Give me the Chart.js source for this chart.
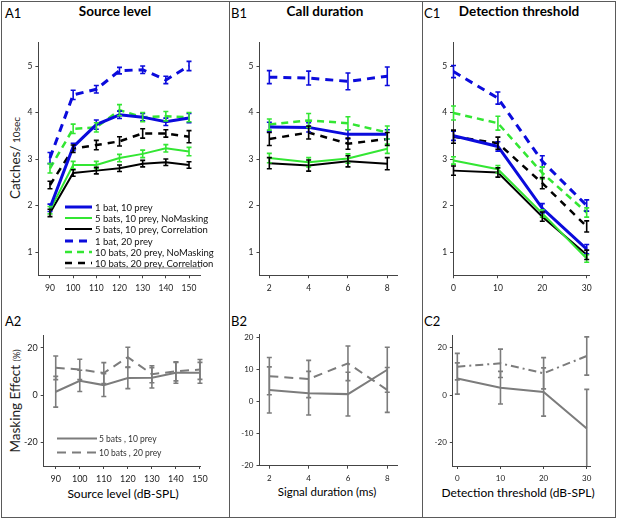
<!DOCTYPE html>
<html><head><meta charset="utf-8">
<script src="https://cdn.jsdelivr.net/npm/chart.js@4.4.1/dist/chart.umd.min.js"></script>
<style>
body{margin:0;background:#fff;width:617px;height:519px;overflow:hidden;position:relative;font-family:Lato,sans-serif;}
canvas{position:absolute;left:0;top:0;}
.t{position:absolute;white-space:nowrap;color:#000;line-height:1;}
.c{text-align:center;width:240px;}
.f{position:absolute;background:#5a5a5a;}
.r{position:absolute;white-space:nowrap;transform:translate(-50%,-50%) rotate(-90deg);line-height:1;color:#222;}
</style></head><body>
<div class="f" style="left:1px;top:1px;width:615px;height:1px"></div>
<div class="f" style="left:1px;top:517px;width:615px;height:1px"></div>
<div class="f" style="left:1px;top:1px;width:1px;height:517px"></div>
<div class="f" style="left:615px;top:1px;width:1px;height:517px"></div>
<div class="f" style="left:229px;top:1px;width:1px;height:517px"></div>
<div class="f" style="left:422px;top:1px;width:1px;height:517px"></div>

<div class="t" style="left:5px;top:7px;font-size:13px">A1</div>
<div class="t c" style="left:-5px;top:5px;font-size:13.5px;font-weight:bold">Source level</div>
<div class="t" style="left:231px;top:7px;font-size:13px">B1</div>
<div class="t c" style="left:205px;top:5px;font-size:13.5px;font-weight:bold">Call duration</div>
<div class="t" style="left:424px;top:7px;font-size:13px">C1</div>
<div class="t c" style="left:399px;top:5px;font-size:13.5px;font-weight:bold">Detection threshold</div>
<div class="t" style="left:5px;top:315px;font-size:13px">A2</div>
<div class="t" style="left:231px;top:315px;font-size:13px">B2</div>
<div class="t" style="left:424px;top:315px;font-size:13px">C2</div>
<div class="t c" style="left:3px;top:488px;font-size:12px">Source level (dB-SPL)</div>
<div class="t c" style="left:207px;top:486px;font-size:11.5px">Signal duration (ms)</div>
<div class="t c" style="left:398px;top:487px;font-size:12px">Detection threshold (dB-SPL)</div>
<div class="r" style="left:16px;top:158px;font-size:13.5px">Catches/<span style="font-size:10px"> 10sec</span></div>
<div class="r" style="left:16px;top:401px;font-size:13.5px">Masking Effect <span style="font-size:9px">(%)</span></div>

<canvas id="a1" width="617" height="519"></canvas>
<canvas id="b1" width="617" height="519"></canvas>
<canvas id="c1" width="617" height="519"></canvas>
<canvas id="a2" width="617" height="519"></canvas>
<canvas id="b2" width="617" height="519"></canvas>
<canvas id="c2" width="617" height="519"></canvas>
<script>
// ---------- data ----------
const sourceLevel = [90,100,110,120,130,140,150];
const callDuration = [2,4,6,8];
const detThreshold = [0,10,20,30];
const catchTicks = [1,2,3,4,5];

// A1 catches vs source level
const a1Bat1Prey10 = [1.95,3.26,3.74,3.95,3.9,3.8,3.88];
const a1Bat1Prey10Err = [0.08,0.08,0.1,0.08,0.08,0.08,0.1];
const a1Bats5NoMask = [1.9,2.87,2.87,3.02,3.11,3.23,3.16];
const a1Bats5NoMaskErr = [0.08,0.08,0.08,0.08,0.08,0.08,0.09];
const a1Bats5Corr = [1.84,2.7,2.75,2.8,2.9,2.93,2.87];
const a1Bats5CorrErr = [0.08,0.07,0.07,0.07,0.07,0.07,0.07];
const a1Bat1Prey20 = [3.02,4.38,4.5,4.9,4.92,4.7,5.0];
const a1Bat1Prey20Err = [0.12,0.1,0.08,0.07,0.08,0.08,0.1];
const a1Bats10NoMask = [2.8,3.65,3.68,4.05,3.9,3.92,3.9];
const a1Bats10NoMaskErr = [0.1,0.1,0.1,0.12,0.1,0.1,0.1];
const a1Bats10Corr = [2.44,3.22,3.3,3.38,3.55,3.55,3.48];
const a1Bats10CorrErr = [0.08,0.08,0.1,0.1,0.1,0.08,0.13];

// B1 catches vs call duration
const b1Bat1Prey10 = [3.69,3.68,3.53,3.53];
const b1Bat1Prey10Err = [0.1,0.1,0.1,0.1];
const b1Bats5NoMask = [3.02,2.93,3.01,3.22];
const b1Bats5NoMaskErr = [0.1,0.1,0.1,0.1];
const b1Bats5Corr = [2.91,2.86,2.95,2.9];
const b1Bats5CorrErr = [0.12,0.12,0.12,0.13];
const b1Bat1Prey20 = [4.76,4.74,4.67,4.78];
const b1Bat1Prey20Err = [0.14,0.15,0.18,0.2];
const b1Bats10NoMask = [3.74,3.83,3.77,3.57];
const b1Bats10NoMaskErr = [0.12,0.15,0.14,0.14];
const b1Bats10Corr = [3.43,3.57,3.33,3.43];
const b1Bats10CorrErr = [0.14,0.14,0.12,0.14];

// C1 catches vs detection threshold
const c1Bat1Prey10 = [3.5,3.27,1.94,1.06];
const c1Bat1Prey10Err = [0.1,0.1,0.1,0.1];
const c1Bats5NoMask = [2.97,2.78,1.83,0.86];
const c1Bats5NoMaskErr = [0.08,0.08,0.08,0.08];
const c1Bats5Corr = [2.75,2.71,1.76,0.94];
const c1Bats5CorrErr = [0.1,0.1,0.1,0.1];
const c1Bat1Prey20 = [4.88,4.31,2.95,2.0];
const c1Bat1Prey20Err = [0.13,0.13,0.12,0.12];
const c1Bats10NoMask = [3.99,3.77,2.7,1.85];
const c1Bats10NoMaskErr = [0.15,0.15,0.13,0.1];
const c1Bats10Corr = [3.48,3.34,2.48,1.55];
const c1Bats10CorrErr = [0.14,0.13,0.12,0.12];

// masking effect (%)
const a2Bats5 = [1.4,6,4.2,7.2,7.3,9.4,9.4];
const a2Bats5Err = [6.5,4.5,4.8,4.5,4.3,4.4,4.4];
const a2Bats10 = [11.5,10.8,9.3,16,8.8,10,10.8];
const a2Bats10Err = [5,4.3,4.4,4.2,3.6,4,4.2];
const b2Bats5 = [3.6,2.6,2.3,9.9];
const b2Bats5Err = [7.2,6.8,6.8,7];
const b2Bats10 = [7.9,7,11.9,3.6];
const b2Bats10Err = [5.8,5.8,5.4,7];
const c2Bats5 = [7,3.1,1.3,-14.1];
const c2Bats5Err = [6.6,6.9,10.2,16.5];
const c2Bats10 = [12,13.4,9.2,16.5];
const c2Bats10Err = [5.6,6,6.6,8.1];

const maskTicks20 = [-20,0,20];
const maskTicks10 = [-20,-10,0,10,20];

const labels6 = ['1 bat, 10 prey','5 bats, 10 prey, NoMasking','5 bats, 10 prey, Correlation',
  '1 bat, 20 prey','10 bats, 20 prey, NoMasking','10 bats, 20 prey, Correlation'];
const labels2 = ['5 bats , 10 prey','10 bats , 20 prey'];

// ---------- styling ----------
const W=617,H=519,YW=30,XH=25;
const BLUE='#0b0bdc', GREEN='#33e633', BLACK='#000000', GRAY='#7c7c7c';
const FONT='Lato, sans-serif';

const errorBars={
  id:'errorBars',
  afterDatasetsDraw(chart){
    const ctx=chart.ctx, ys=chart.scales.y, a=chart.chartArea;
    ctx.save();
    ctx.beginPath(); ctx.rect(a.left-6,a.top-1,a.right-a.left+12,a.bottom-a.top+1); ctx.clip();
    chart.data.datasets.forEach((ds,i)=>{
      if(!ds.errors) return;
      const meta=chart.getDatasetMeta(i);
      ctx.strokeStyle=ds.borderColor; ctx.lineWidth=ds.errWidth||1.6; ctx.setLineDash([]);
      meta.data.forEach((pt,j)=>{
        const v=ds.data[j].y, e=ds.errors[j], c=ds.cap||2.5;
        const y1=ys.getPixelForValue(v+e), y2=ys.getPixelForValue(v-e), x=pt.x;
        ctx.beginPath();
        ctx.moveTo(x,y1); ctx.lineTo(x,y2);
        ctx.moveTo(x-c,y1); ctx.lineTo(x+c,y1);
        ctx.moveTo(x-c,y2); ctx.lineTo(x+c,y2);
        ctx.stroke();
      });
    });
    ctx.restore();
  }
};
const inLegend={
  id:'inLegend',
  afterDraw(chart,args,o){
    if(!o||!o.ys) return;
    const ctx=chart.ctx;
    ctx.save();
    chart.data.datasets.forEach((ds,i)=>{
      const y=o.ys[i];
      ctx.strokeStyle=ds.borderColor; ctx.lineWidth=ds.borderWidth; ctx.setLineDash(ds.borderDash||[]);
      ctx.beginPath(); ctx.moveTo(o.x0,y); ctx.lineTo(o.x1,y); ctx.stroke();
      ctx.setLineDash([]);
      ctx.fillStyle=o.color||'#111'; ctx.font=o.size+'px '+FONT; ctx.textBaseline='middle';
      ctx.fillText(ds.label,o.tx,y+0.5);
    });
    if(o.under){
      ctx.strokeStyle='#8a8a8a'; ctx.lineWidth=1;
      ctx.beginPath(); ctx.moveTo(o.under[0],o.under[2]); ctx.lineTo(o.under[1],o.under[2]); ctx.stroke();
    }
    ctx.restore();
  }
};

function ds(label,xs,ys,err,color,width,dash){
  return {label,data:xs.map((x,i)=>({x,y:ys[i]})),errors:err,borderColor:color,backgroundColor:color,
    borderWidth:width,borderDash:dash||[],pointRadius:0,tension:0,fill:false};
}
function axis(min,max,ticks,size,isX){
  return {type:'linear',min,max,
    afterBuildTicks:s=>{s.ticks=ticks.map(v=>({value:v}));},
    afterFit:s=>{ if(isX){s.height=XH;} else {s.width=YW;} s.paddingLeft=0;s.paddingRight=0;s.paddingTop=0;s.paddingBottom=0;},
    grid:{display:true,drawOnChartArea:false,drawTicks:true,tickLength:3,color:'#444'},
    border:{display:true,color:'#444',width:1},
    ticks:{font:{family:FONT,size},color:'#222',padding:isX?5:3,maxRotation:0,autoSkip:false}
  };
}
function panel(id,area,xr,yr,xt,yt,datasets,tsize,legend){
  new Chart(document.getElementById(id),{
    type:'line',
    data:{datasets},
    options:{responsive:false,animation:false,
      layout:{padding:{left:area[0]-YW,right:W-area[1],top:area[2],bottom:H-area[3]-XH}},
      scales:{x:axis(xr[0],xr[1],xt,tsize,true),y:axis(yr[0],yr[1],yt,tsize,false)},
      plugins:{legend:{display:false},tooltip:{enabled:false},inLegend:legend||{}}
    },
    plugins:[errorBars,inLegend]
  });
}
function six(xs,s){
  return [
    ds(labels6[0],xs,s[0],s[1],BLUE,3),
    ds(labels6[1],xs,s[2],s[3],GREEN,2),
    ds(labels6[2],xs,s[4],s[5],BLACK,2),
    ds(labels6[3],xs,s[6],s[7],BLUE,3,[8,6]),
    ds(labels6[4],xs,s[8],s[9],GREEN,2.5,[7,5]),
    ds(labels6[5],xs,s[10],s[11],BLACK,2.5,[7,6])
  ];
}

panel('a1',[38.4,200.6,42.75,275.25],[85,155],[0.5,5.5],sourceLevel,catchTicks,
  six(sourceLevel,[a1Bat1Prey10,a1Bat1Prey10Err,a1Bats5NoMask,a1Bats5NoMaskErr,a1Bats5Corr,a1Bats5CorrErr,
    a1Bat1Prey20,a1Bat1Prey20Err,a1Bats10NoMask,a1Bats10NoMaskErr,a1Bats10Corr,a1Bats10CorrErr]),8.5,
  {x0:65,x1:92,tx:95,ys:[207,218,229,241,252,263],size:9.5,under:[65,201,268]});
panel('b1',[259.5,397.1,42.75,275.25],[1.5,8.5],[0.5,5.5],callDuration,catchTicks,
  six(callDuration,[b1Bat1Prey10,b1Bat1Prey10Err,b1Bats5NoMask,b1Bats5NoMaskErr,b1Bats5Corr,b1Bats5CorrErr,
    b1Bat1Prey20,b1Bat1Prey20Err,b1Bats10NoMask,b1Bats10NoMaskErr,b1Bats10Corr,b1Bats10CorrErr]),8.5);
panel('c1',[453.06,589.36,42.75,275.25],[-0.1,30.6],[0.5,5.5],detThreshold,catchTicks,
  six(detThreshold,[c1Bat1Prey10,c1Bat1Prey10Err,c1Bats5NoMask,c1Bats5NoMaskErr,c1Bats5Corr,c1Bats5CorrErr,
    c1Bat1Prey20,c1Bat1Prey20Err,c1Bats10NoMask,c1Bats10NoMaskErr,c1Bats10Corr,c1Bats10CorrErr]),8.5);

panel('a2',[43.7,200.7,335.9,466],[85,150.3],[-30,25],sourceLevel,maskTicks20,
  [ds(labels2[0],sourceLevel,a2Bats5,a2Bats5Err,GRAY,2),ds(labels2[1],sourceLevel,a2Bats10,a2Bats10Err,GRAY,2,[9,6])],9,
  {x0:57,x1:97,tx:99,ys:[438.5,452.5],size:8.5,color:'#333'});
panel('b2',[259.5,397.1,334.1,465.7],[1.5,8.5],[-20,21],callDuration,maskTicks10,
  [ds(labels2[0],callDuration,b2Bats5,b2Bats5Err,GRAY,2),ds(labels2[1],callDuration,b2Bats10,b2Bats10Err,GRAY,2,[9,6])],8);
panel('c2',[452.8,590.2,335.9,466],[-1.05,30.8],[-30,25],detThreshold,maskTicks20,
  [ds(labels2[0],detThreshold,c2Bats5,c2Bats5Err,GRAY,2),ds(labels2[1],detThreshold,c2Bats10,c2Bats10Err,GRAY,2,[8,4,2,4])],8);
</script>
</body></html>
